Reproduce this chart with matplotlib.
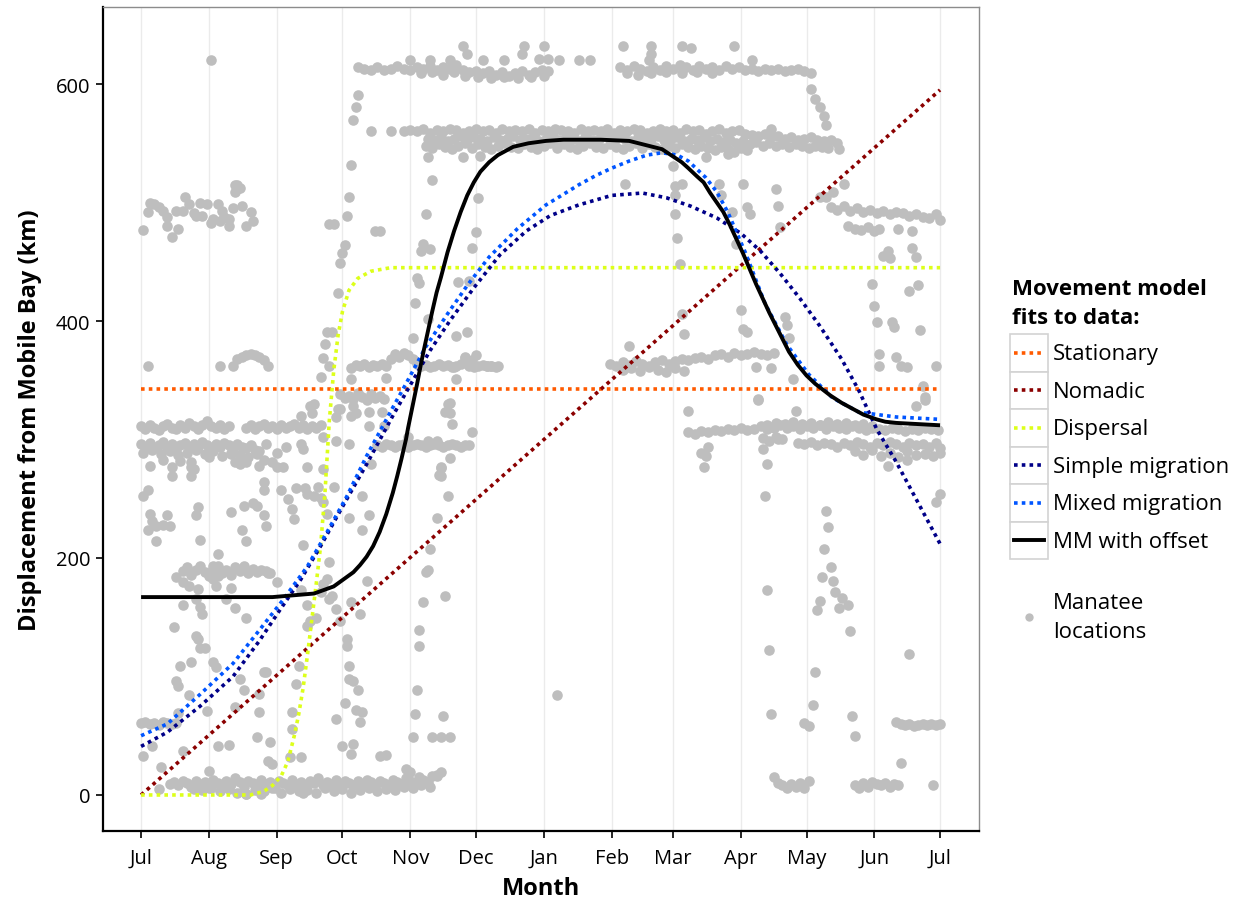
import matplotlib.pyplot as plt
from matplotlib.lines import Line2D
from matplotlib.patches import Rectangle

plt.rcParams['font.family'] = ['Open Sans', 'DejaVu Sans']

# x = days since 1 July, y = km from Mobile Bay
month_days = [0, 31, 62, 92, 123, 153, 184, 215, 243, 274, 304, 335, 365]
month_labels = ['Jul', 'Aug', 'Sep', 'Oct', 'Nov', 'Dec', 'Jan', 'Feb', 'Mar', 'Apr', 'May', 'Jun', 'Jul']
km_ticks = [0, 200, 400, 600]

# ---- manatee locations ----
bottom_band = [(13, 9), (15, 11), (17, 8), (19, 12), (21, 10), (23, 7), (25, 12), (27, 9), (29, 11), (31, 6),
               (33, 13), (35, 10), (37, 8), (39, 12), (41, 9), (43, 14), (45, 11), (47, 7), (49, 12), (51, 10),
               (53, 8), (55, 13), (57, 9), (59, 11), (61, 6), (63, 12), (65, 10), (67, 8), (69, 13), (71, 9),
               (73, 11), (75, 7), (77, 12), (79, 10), (81, 14), (83, 8), (85, 11), (87, 9), (89, 13), (91, 7),
               (93, 12), (95, 10), (97, 8), (99, 12), (101, 9), (103, 13), (105, 11), (107, 7), (109, 12),
               (111, 10), (113, 8), (115, 13), (117, 11), (119, 9), (121, 14), (123, 12), (125, 10), (127, 15),
               (129, 13), (131, 11), (133, 16), (135, 17), (137, 19)]
bottom_band_low = [(24, 5), (28, 4), (32, 6), (36, 3), (40, 5), (44, 2), (48, 1), (52, 4), (56, 3), (60, 6),
                   (64, 2), (68, 5), (72, 3), (76, 4), (80, 2), (84, 6), (88, 3), (92, 5), (96, 2), (100, 4),
                   (104, 6), (108, 3), (112, 5), (116, 4), (120, 7), (124, 6), (128, 8), (132, 7)]

band_555_top = [(120, 560), (123, 561), (126, 560), (129, 562), (132, 559), (135, 561), (138, 560), (141, 562),
                (144, 561), (147, 559), (150, 560), (153, 562), (156, 560), (159, 561), (162, 559), (165, 562),
                (168, 560), (171, 561), (174, 560), (177, 562), (180, 559), (183, 561), (186, 560), (189, 562),
                (192, 561), (195, 560), (198, 559), (201, 562), (204, 560), (207, 561), (210, 560), (213, 562),
                (216, 559), (219, 561), (222, 560), (225, 562), (228, 561), (231, 559), (234, 560), (237, 562),
                (240, 560), (243, 561), (246, 559), (249, 562), (252, 560), (255, 561), (258, 558), (261, 560),
                (264, 562), (267, 559), (270, 560), (273, 561), (276, 558), (279, 557), (282, 556), (285, 558),
                (288, 555), (291, 556), (294, 554), (297, 555), (300, 553), (303, 554), (306, 555), (309, 553),
                (312, 552), (315, 553), (318, 550)]
band_555_mid = [(131, 554), (134, 553), (137, 555), (140, 552), (143, 554), (146, 556), (149, 553), (152, 555),
                (155, 554), (158, 552), (161, 555), (164, 553), (167, 554), (170, 556), (173, 553), (176, 554),
                (179, 555), (182, 552), (185, 554), (188, 556), (191, 553), (194, 555), (197, 554), (200, 552),
                (203, 555), (206, 553), (209, 554), (212, 556), (215, 553), (218, 555), (221, 554), (224, 552),
                (227, 555), (230, 553), (233, 554), (236, 556), (239, 553), (242, 554), (245, 555), (248, 552),
                (251, 554), (254, 553), (257, 555), (260, 552), (263, 554), (266, 551), (269, 553), (272, 550),
                (275, 552), (278, 549), (281, 551), (284, 548), (287, 550), (290, 548), (293, 549), (296, 547),
                (299, 549), (302, 548), (305, 546), (308, 548), (311, 547), (314, 546), (319, 545)]
band_555_low = [(130, 548), (133, 546), (136, 549), (139, 547), (142, 545), (145, 548), (148, 550), (151, 546),
                (154, 549), (157, 547), (160, 545), (163, 548), (166, 550), (169, 547), (172, 546), (175, 549),
                (178, 547), (181, 545), (184, 548), (187, 550), (190, 546), (193, 549), (196, 547), (199, 545),
                (202, 548), (205, 550), (208, 547), (211, 546), (214, 549), (217, 547), (220, 545), (223, 548),
                (226, 550), (229, 546), (232, 549), (235, 547), (238, 545), (241, 548), (244, 546), (247, 549),
                (250, 547), (253, 545), (256, 548), (259, 546), (262, 544), (265, 547), (268, 545), (271, 543),
                (274, 546), (277, 544)]

band_612 = [(99, 614), (102, 613), (105, 612), (108, 614), (111, 612), (114, 613), (117, 615), (120, 613),
            (123, 612), (126, 614), (129, 613), (132, 615), (135, 612), (138, 614), (141, 613), (144, 616),
            (147, 612), (150, 610), (153, 611), (156, 609), (159, 611), (162, 608), (165, 610), (168, 607),
            (171, 609), (174, 611), (177, 608), (180, 610), (183, 612), (186, 611),
            (128, 609), (133, 610), (138, 608), (143, 610), (148, 607), (154, 606), (160, 605), (166, 606),
            (172, 605), (178, 606), (184, 607),
            (219, 614), (222, 612), (225, 615), (228, 613), (231, 611), (234, 614), (237, 612), (240, 615),
            (243, 613), (246, 616), (249, 614), (252, 612), (255, 615), (258, 613), (261, 614), (264, 612),
            (267, 615), (270, 613), (273, 614), (276, 612), (279, 613), (282, 611), (285, 613), (288, 612),
            (291, 613), (294, 611), (297, 612), (300, 613), (303, 611), (306, 609),
            (222, 609), (227, 608), (233, 609), (240, 610), (247, 609), (254, 610), (261, 609)]

band_490_left = [(1, 477), (4, 500), (6, 499), (3, 492), (10, 493), (12, 488), (14, 471), (12, 480), (17, 478),
                 (16, 493), (19, 493), (20, 505), (22, 499), (27, 500), (30, 499), (25, 489), (28, 489), (33, 486),
                 (32, 483), (36, 484), (35, 499), (37, 493), (40, 486), (40, 480), (42, 495), (43, 509), (44, 515),
                 (45, 512), (46, 497), (50, 492), (51, 484), (48, 480), (8, 496), (24, 491), (38, 488)]

band_370_aug = [(42, 362), (44, 368), (46, 370), (48, 371), (50, 372), (52, 371), (54, 370), (56, 367),
                (58, 362), (36, 362), (3, 362)]
band_370_oct = [(96, 360), (98, 363), (100, 362), (102, 364), (104, 361), (106, 363), (108, 362), (110, 364),
                (112, 362), (114, 368), (116, 372), (118, 370), (120, 373), (122, 371), (124, 368), (126, 364),
                (128, 362), (130, 363), (132, 361), (134, 362), (136, 364), (138, 362), (140, 363), (142, 361),
                (144, 362), (146, 364), (148, 370), (150, 362), (152, 361), (154, 362), (156, 363), (158, 362),
                (160, 362), (162, 361)]
band_340_oct = [(91, 338), (93, 335), (95, 337), (97, 334), (99, 339), (101, 336), (103, 333), (105, 338),
                (107, 335), (109, 337), (111, 334)]

band_311_left = [(0, 311), (2, 309), (4, 312), (6, 310), (8, 308), (10, 311), (12, 313), (14, 310), (16, 309),
                 (18, 312), (20, 310), (22, 314), (24, 311), (26, 309), (28, 312), (30, 316), (32, 311), (34, 310),
                 (36, 312), (38, 309), (40, 311), (48, 310), (50, 312), (52, 309), (54, 311), (56, 313), (58, 310),
                 (60, 311), (62, 309), (64, 312), (66, 310), (68, 311), (70, 313), (72, 310), (74, 312), (76, 309),
                 (78, 311), (80, 310), (82, 312)]
band_294_left = [(0, 296), (2, 294), (4, 297), (6, 293), (8, 295), (10, 298), (12, 294), (14, 296), (16, 292),
                 (18, 295), (20, 297), (22, 293), (24, 296), (26, 294), (28, 298), (30, 295), (32, 293), (34, 296),
                 (36, 294), (38, 297), (40, 295), (42, 292), (44, 296), (46, 294), (48, 293), (50, 295), (52, 291),
                 (54, 290), (1, 289), (5, 291), (9, 288), (13, 290), (17, 287), (21, 289), (25, 291), (29, 288),
                 (33, 290), (37, 286), (41, 289), (45, 287), (49, 285), (53, 288)]
band_295_nov = [(108, 295), (110, 294), (112, 296), (114, 295), (116, 294), (118, 295), (120, 296), (122, 294),
                (124, 295), (126, 296), (128, 295), (130, 294), (132, 295), (134, 296), (136, 295), (138, 294),
                (140, 295), (142, 296), (144, 295), (146, 294), (148, 295), (150, 295)]
band_190_aug = [(19, 189), (21, 192), (23, 186), (25, 190), (27, 193), (29, 188), (31, 185), (33, 191), (35, 193),
                (37, 187), (39, 190), (41, 186), (43, 192), (45, 189), (47, 193), (49, 187), (51, 191), (53, 188),
                (55, 190), (57, 189), (59, 187)]
band_60_left = [(0, 61), (2, 62), (4, 60), (6, 61), (8, 59), (10, 62), (12, 61), (14, 60), (16, 61)]

band_308_right = [(250, 306), (253, 305), (256, 307), (259, 306), (262, 308), (265, 307), (268, 309), (271, 308),
                  (274, 310), (277, 308), (280, 309), (283, 311), (286, 309), (289, 310), (292, 312), (295, 310),
                  (298, 311), (301, 309), (304, 311), (307, 310), (310, 312), (313, 309), (316, 311), (319, 310),
                  (322, 309), (325, 311), (328, 310), (331, 308), (334, 310), (337, 309), (340, 308), (343, 310),
                  (346, 309), (349, 307), (352, 309), (355, 308), (358, 310), (361, 309), (364, 308),
                  (286, 312), (290, 314), (294, 313), (298, 315), (302, 313), (306, 314), (310, 312), (314, 315),
                  (318, 313), (322, 314), (326, 312), (330, 313), (334, 311)]
band_296_right = [(300, 297), (303, 296), (306, 298), (309, 295), (312, 297), (315, 296), (318, 294), (321, 297),
                  (324, 295), (327, 298), (330, 296), (333, 294), (336, 297), (339, 295), (342, 298), (345, 296),
                  (348, 294), (351, 297), (354, 295), (357, 296), (360, 294), (363, 297), (365, 293),
                  (284, 301), (287, 299), (290, 302), (293, 300),
                  (326, 290), (330, 287), (334, 291), (338, 286), (342, 289), (346, 285), (350, 290), (354, 287),
                  (358, 288), (362, 286), (365, 289)]
band_490_right = [(315, 496), (318, 494), (321, 497), (324, 493), (327, 495), (330, 492), (333, 494), (336, 491),
                  (339, 493), (342, 490), (345, 492), (348, 491), (351, 489), (354, 490), (357, 488), (360, 487),
                  (363, 490), (365, 485), (313, 505), (310, 505),
                  (323, 480), (326, 478), (329, 477), (332, 479), (335, 476), (337, 478)]
band_370_feb = [(214, 364), (217, 362), (220, 365), (223, 363), (226, 366), (229, 364), (232, 362), (235, 365),
                (238, 367), (241, 364), (244, 366), (247, 368), (250, 367), (253, 369), (256, 370), (259, 368),
                (262, 371), (265, 372), (268, 370), (271, 373), (274, 371), (277, 372), (280, 374), (283, 372),
                (286, 371), (289, 373),
                (220, 359), (224, 360), (228, 358), (232, 361), (236, 359), (240, 357), (244, 360), (248, 358)]
low_right = [(289, 15), (291, 10), (293, 8), (295, 6), (297, 9), (299, 7), (301, 10), (303, 6), (305, 12),
             (326, 8), (328, 6), (330, 10), (332, 7), (334, 11), (336, 9), (338, 8), (340, 10), (342, 7),
             (344, 9), (346, 8), (362, 8),
             (345, 62), (347, 60), (349, 59), (351, 60), (353, 58), (355, 59), (357, 60), (359, 59), (361, 60),
             (363, 59), (365, 60)]

scatter_left = [(1, 252), (3, 257), (4, 237), (5, 231), (7, 227), (10, 228), (13, 227), (12, 236), (3, 224),
                (7, 214), (14, 269), (23, 277), (23, 269), (26, 243), (25, 236), (27, 215), (18, 282), (35, 203),
                (41, 239), (47, 244), (51, 246), (53, 244), (56, 236), (57, 227), (46, 224), (48, 214), (56, 264),
                (56, 257), (64, 257), (67, 250), (69, 241), (71, 259), (75, 259), (76, 254), (79, 252), (70, 233),
                (74, 211), (81, 260), (88, 260), (82, 251), (83, 247), (85, 237), (86, 197), (85, 182), (95, 234),
                (101, 252), (104, 236), (101, 224), (103, 181), (105, 279), (95, 296), (89, 299), (89, 319),
                (90, 326), (96, 320), (97, 328), (83, 275), (83, 302), (41, 288), (43, 281), (45, 279), (48, 281),
                (53, 289), (54, 278), (57, 296), (62, 289), (66, 294), (73, 296), (74, 292), (76, 277), (60, 281),
                (62, 277), (65, 277), (77, 328), (78, 322), (79, 330), (73, 320), (91, 326), (98, 322), (104, 323),
                (110, 323), (104, 311), (111, 311), (4, 278), (14, 277), (23, 281), (24, 275), (56, 283),
                (31, 285), (10, 283)]
scatter_low = [(19, 180), (26, 174), (25, 165), (27, 159), (28, 153), (19, 160), (48, 149), (43, 158), (39, 165),
               (41, 175), (15, 142), (25, 134), (26, 132), (27, 124), (29, 124), (18, 109), (23, 112), (33, 112),
               (34, 108), (16, 96), (17, 92), (22, 84), (17, 69), (30, 71), (35, 41), (40, 42), (19, 37), (1, 33),
               (9, 24), (31, 20), (5, 41), (8, 5), (43, 74), (47, 89), (54, 70), (53, 49), (59, 45), (56, 104),
               (57, 104), (54, 85), (45, 98), (58, 29), (60, 26), (73, 32), (68, 32), (69, 56), (69, 70), (71, 94),
               (72, 109), (76, 143), (77, 147), (80, 149), (73, 173), (76, 160), (82, 171), (83, 178), (86, 165),
               (87, 168), (89, 157), (91, 147), (94, 132), (94, 126), (95, 109), (95, 98), (97, 96), (99, 89),
               (93, 78), (98, 72), (101, 70), (100, 62), (89, 64), (92, 41), (97, 43), (96, 35), (100, 153),
               (96, 163), (109, 33), (112, 34), (124, 49), (125, 68), (133, 49), (137, 49), (141, 49), (138, 67),
               (126, 89), (127, 126), (127, 139), (129, 163), (130, 188), (131, 190), (132, 208), (135, 234),
               (136, 270), (137, 276), (141, 284), (140, 252), (139, 168), (121, 22), (123, 19), (135, 16),
               (48, 1), (55, 1), (74, 2), (33, 193), (33, 182), (34, 176), (35, 185), (16, 184), (22, 176),
               (58, 187), (62, 180)]
scatter_mid = [(87, 391), (85, 391), (84, 381), (83, 369), (86, 362), (82, 353), (96, 351), (112, 352),
               (32, 620), (43, 515), (44, 511), (97, 570), (98, 581), (99, 591), (105, 560), (114, 560),
               (96, 532), (95, 505), (94, 489), (93, 464), (92, 457), (91, 449), (90, 424), (86, 482), (88, 482),
               (107, 476), (109, 476), (131, 538), (133, 519), (147, 538), (155, 539), (154, 504), (130, 490),
               (153, 475), (129, 465), (128, 459), (132, 461), (151, 462), (126, 436), (127, 432), (145, 433),
               (150, 434), (125, 415), (131, 402), (124, 386), (144, 387), (149, 391), (153, 371), (148, 369),
               (143, 361), (144, 351), (151, 367), (158, 362), (160, 362), (163, 362), (141, 331), (139, 323),
               (140, 330), (141, 322), (142, 313), (151, 306), (122, 302), (131, 299), (135, 299), (137, 277),
               (137, 269)]
scatter_top = [(147, 632), (149, 625), (175, 632), (184, 632), (174, 625), (166, 620), (123, 620), (132, 620),
               (141, 620), (156, 620), (182, 621), (186, 621), (191, 620), (200, 620), (205, 620), (220, 632),
               (233, 632), (247, 632), (251, 630), (271, 632), (233, 625), (232, 620), (279, 620), (306, 596),
               (308, 587), (310, 581), (312, 573), (313, 565), (288, 562), (243, 531), (258, 538), (268, 541)]
scatter_right = [(190, 84), (221, 516), (244, 514), (247, 516), (244, 506), (244, 490), (245, 470), (246, 448),
                 (247, 406), (248, 389), (223, 379), (264, 516), (265, 506), (270, 492), (275, 516), (277, 496),
                 (278, 490), (272, 465), (274, 409), (275, 393), (277, 391), (282, 334), (290, 511), (291, 497),
                 (292, 479), (281, 361), (288, 360), (294, 403), (295, 397), (296, 386), (298, 351), (299, 324),
                 (321, 516), (316, 509), (334, 431), (335, 413), (336, 399), (343, 399), (344, 395), (351, 425),
                 (355, 430), (356, 392), (337, 372), (337, 362), (345, 370), (347, 362), (350, 361), (363, 362),
                 (339, 455), (341, 459), (342, 453), (346, 478), (352, 476), (352, 462), (354, 454), (357, 345),
                 (358, 336), (354, 328), (250, 324), (282, 333), (358, 333), (257, 277), (256, 289), (258, 286),
                 (259, 294), (291, 300), (284, 292), (286, 279), (341, 278), (350, 283), (313, 240), (314, 226),
                 (312, 208), (315, 192), (311, 184), (316, 181), (317, 171), (320, 166), (319, 158), (323, 160),
                 (310, 164), (309, 156), (324, 138), (308, 104), (307, 76), (303, 61), (305, 58), (325, 67),
                 (326, 50), (351, 119), (347, 27), (286, 173), (285, 252), (287, 122), (288, 68), (365, 254),
                 (363, 247)]

locations = [bottom_band, bottom_band_low, band_555_top, band_555_mid, band_555_low, band_612, band_490_left,
             band_370_aug, band_370_oct, band_340_oct, band_311_left, band_294_left, band_295_nov, band_190_aug,
             band_60_left, band_308_right, band_296_right, band_490_right, band_370_feb, low_right,
             scatter_left, scatter_low, scatter_mid, scatter_top, scatter_right]

# ---- model fits ----
stationary_x = [0, 365]
stationary_y = [343, 343]
nomadic_x = [0, 365]
nomadic_y = [0, 595]
dispersal_x = [0, 50, 56, 60, 64, 67, 70, 72, 74, 76, 78, 80, 82, 84, 86, 88, 90, 92, 95, 99, 105, 114, 130, 365]
dispersal_y = [0, 0, 3, 8, 16, 28, 50, 68, 90, 118, 148, 178, 210, 255, 316, 358, 388, 408, 426, 436, 442, 445,
               445, 445]
simple_x = [0, 12, 27, 42, 54, 63, 73, 82, 91, 103, 115, 123, 132, 141, 152, 164, 176, 187, 200, 215, 229, 240,
            251, 263, 274, 283, 292, 301, 310, 320, 328, 336, 345, 354, 365]
simple_y = [41, 53, 75, 100, 130, 155, 182, 210, 240, 279, 320, 346, 375, 400, 428, 456, 476, 489, 498, 506, 508,
            504, 497, 487, 474, 459, 440, 419, 396, 368, 341, 309, 281, 250, 212]
mixed_x = [0, 12, 27, 42, 54, 65, 76, 85, 94, 103, 115, 121, 130, 140, 149, 159, 172, 185, 193, 200, 208, 215,
           223, 231, 238, 245, 250, 258, 263, 268, 276, 285, 295, 305, 316, 328, 345, 365]
mixed_y = [50, 60, 85, 111, 139, 165, 193, 222, 252, 286, 327, 347, 378, 406, 430, 454, 478, 498, 507, 515, 523,
           529, 535, 540, 542, 540, 535, 521, 509, 492, 458, 415, 380, 355, 335, 323, 319, 317]
offset_x = [0, 60, 79, 88, 97, 100, 103, 106, 109, 112, 115, 117, 119, 121, 122, 124, 125, 126, 128, 129, 131,
            133, 135, 137, 140, 143, 146, 149, 152, 155, 159, 163, 170, 177, 185, 193, 210, 223, 238, 247, 250,
            254, 257, 260, 263, 266, 269, 272, 275, 278, 281, 284, 287, 290, 293, 296, 300, 304, 308, 315, 320,
            325, 330, 336, 340, 345, 355, 365]
offset_y = [167, 167, 170, 176, 188, 194, 201, 210, 222, 237, 255, 269, 284, 300, 310, 328, 337, 346, 365, 374,
            391, 408, 424, 437, 458, 476, 492, 506, 517, 526, 534, 540, 547, 550, 552, 553, 553, 552, 545, 534,
            529, 522, 517, 508, 500, 492, 481, 469, 457, 444, 431, 419, 407, 396, 385, 374, 363, 354, 347, 337,
            331, 326, 321, 317, 315, 314, 313, 312]

model_names = ['Stationary', 'Nomadic', 'Dispersal', 'Simple migration', 'Mixed migration', 'MM with offset']
model_colors = ['#ff5a00', '#8b0000', '#ddff1a', '#000088', '#0055ff', '#000000']
models = [(stationary_x, stationary_y), (nomadic_x, nomadic_y), (dispersal_x, dispersal_y),
          (simple_x, simple_y), (mixed_x, mixed_y), (offset_x, offset_y)]

W, H = 1250, 903
grey = '#bebebe'
dotted = (0, (1, 1.15))

fig = plt.figure(figsize=(W / 100, H / 100), dpi=100)
ax = fig.add_axes([103 / W, 71 / H, 876 / W, 824 / H])

for pts in locations:
    xs, ys = zip(*pts)
    ax.scatter(xs, ys, s=58, color=grey, linewidths=0, zorder=2)

for (mx, my), name, col in zip(models, model_names, model_colors):
    if name == 'MM with offset':
        ax.plot(mx, my, color=col, lw=2.8, solid_capstyle='butt', solid_joinstyle='round', zorder=4)
    else:
        ax.plot(mx, my, color=col, lw=2.6, ls=dotted, dash_capstyle='butt', zorder=3)

ax.set_xlim(-17.4, 382.8)
ax.set_ylim(-30.4, 665)
ax.set_xticks(month_days)
ax.set_xticklabels(month_labels)
ax.set_yticks(km_ticks)
ax.grid(axis='x', color='#ebebeb', lw=1.0)
ax.set_axisbelow(True)
ax.tick_params(length=5, width=1.2, labelsize=14.5, colors='black')
ax.tick_params(axis='x', pad=7)
ax.tick_params(axis='y', pad=4)

for side in ['left', 'bottom']:
    ax.spines[side].set_color('black')
    ax.spines[side].set_linewidth(1.6)
for side in ['top', 'right']:
    ax.spines[side].set_color('#8c8c8c')
    ax.spines[side].set_linewidth(1.0)

ax.set_xlabel('Month', fontsize=17, fontweight='bold', labelpad=6)
ax.set_ylabel('Displacement from Mobile Bay (km)', fontsize=17, fontweight='bold', labelpad=10)


# ---- legend drawn in figure pixels ----
def fx(x):
    return x / W


def fy(y):
    return 1 - y / H


fig.text(fx(1012), fy(304), 'Movement model\nfits to data:', fontsize=16, fontweight='bold',
         va='center', ha='left', linespacing=1.5)

key_top, key_h = 335, 37.5
for i, (name, col) in enumerate(zip(model_names, model_colors)):
    y0 = key_top + key_h * i
    yc = y0 + key_h / 2
    fig.add_artist(Rectangle((fx(1010), fy(y0 + key_h)), 38 / W, key_h / H, transform=fig.transFigure,
                             facecolor='white', edgecolor='#d3d3d3', lw=1.2))
    if name == 'MM with offset':
        ln = Line2D([fx(1014), fx(1044)], [fy(yc), fy(yc)], transform=fig.transFigure, color=col, lw=2.8)
    else:
        ln = Line2D([fx(1014), fx(1044)], [fy(yc), fy(yc)], transform=fig.transFigure, color=col, lw=2.6,
                    ls=dotted, dash_capstyle='butt')
    fig.add_artist(ln)
    fig.text(fx(1053), fy(yc + 1), name, fontsize=16, va='center', ha='left')

fig.add_artist(Line2D([fx(1029)], [fy(618)], transform=fig.transFigure, marker='o', color=grey,
                      markersize=6, markeredgewidth=0, ls='none'))
fig.text(fx(1053), fy(618), 'Manatee\nlocations', fontsize=16, va='center', ha='left', linespacing=1.45)

fig.savefig('out.png', dpi=100)
